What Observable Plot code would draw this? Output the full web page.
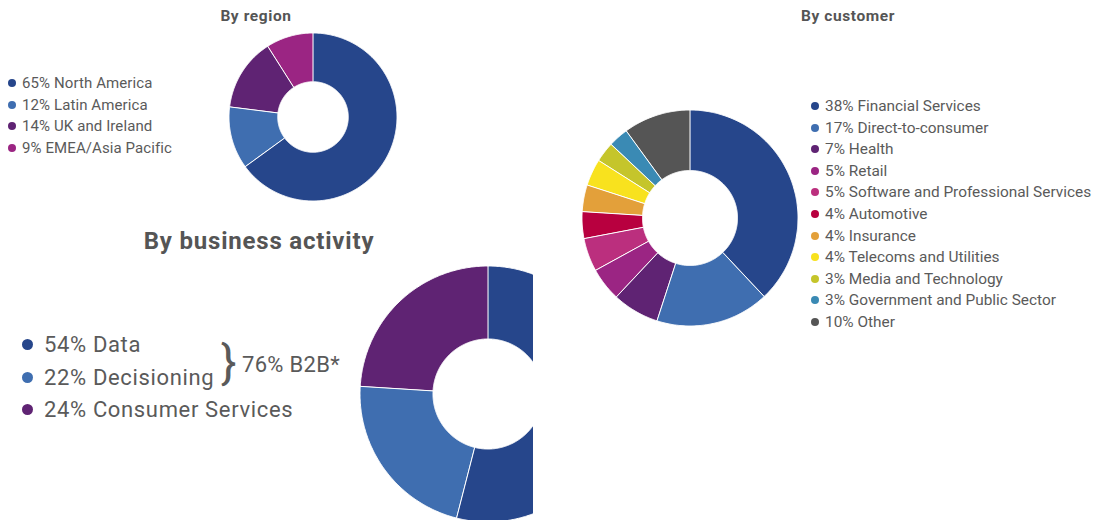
<!DOCTYPE html>
<html><head><meta charset="utf-8">
<script src="https://cdn.jsdelivr.net/npm/d3@7"></script>
<script src="https://cdn.jsdelivr.net/npm/@observablehq/plot@0.6"></script>
<style>
body{margin:0;background:#fff;font-family:Roboto,"Noto Sans",sans-serif;color:#5a5a5a}
#page{position:relative;width:1093px;height:520px;overflow:hidden;background:#fff}
.abs{position:absolute}
.title{position:absolute;font-weight:700;white-space:nowrap;transform:translate(-50%,-50%);color:#555}
.row{position:absolute;display:flex;align-items:center;white-space:nowrap}
.dot{display:inline-block;border-radius:50%;flex:none}
svg{max-width:none !important}
</style></head><body><div id="page"></div>
<script>
// ---- data ----
const regionLabels = ["North America", "Latin America", "UK and Ireland", "EMEA/Asia Pacific"];
const regionValues = [65, 12, 14, 9];
const regionColors = ["#26468b", "#3f6eb0", "#5f2373", "#9b2583"];

const activityLabels = ["Data", "Decisioning", "Consumer Services"];
const activityValues = [54, 22, 24];
const activityColors = ["#26468b", "#3f6eb0", "#5f2373"];

const customerLabels = ["Financial Services", "Direct-to-consumer", "Health", "Retail",
  "Software and Professional Services", "Automotive", "Insurance", "Telecoms and Utilities",
  "Media and Technology", "Government and Public Sector", "Other"];
const customerValues = [38, 17, 7, 5, 5, 4, 4, 4, 3, 3, 10];
const customerColors = ["#26468b", "#3f6eb0", "#5f2373", "#9b2583", "#bb2f7e", "#b8003f",
  "#e3a03a", "#f8e21e", "#c5c52b", "#3a8ab4", "#555555"];

const b2bLabel = "76% B2B*";

// ---- drawing ----
const page = document.getElementById("page");

function donut(labels, values, colors, size, innerRatio) {
  const arcs = d3.pie().sort(null).value(d => d)(values);
  const pts = [];
  arcs.forEach((a, i) => {
    const n = Math.max(2, Math.ceil((a.endAngle - a.startAngle) / 0.01));
    for (let k = 0; k <= n; k++) {
      pts.push({label: labels[i], t: a.startAngle + (a.endAngle - a.startAngle) * k / n});
    }
  });
  const svg = Plot.plot({
    width: size, height: size, margin: 0,
    x: {domain: [-1, 1], axis: null},
    y: {domain: [-1, 1], axis: null},
    color: {domain: labels, range: colors},
    style: {background: "transparent", overflow: "visible"},
    marks: [
      Plot.area(pts, {
        x1: d => Math.sin(d.t), y1: d => Math.cos(d.t),
        x2: d => innerRatio * Math.sin(d.t), y2: d => innerRatio * Math.cos(d.t),
        fill: "label", z: "label", stroke: "white", strokeWidth: 1, curve: "linear"
      })
    ]
  });
  svg.style.maxWidth = "none";
  return svg;
}

function place(el, left, top, w, h) {
  const wrap = document.createElement("div");
  wrap.className = "abs";
  wrap.style.left = left + "px"; wrap.style.top = top + "px";
  if (w) { wrap.style.width = w + "px"; wrap.style.height = h + "px"; wrap.style.overflow = "hidden"; }
  wrap.appendChild(el);
  page.appendChild(wrap);
  return wrap;
}

function title(text, cx, cy, size, ls) {
  const d = document.createElement("div");
  d.className = "title";
  d.textContent = text;
  d.style.left = cx + "px"; d.style.top = cy + "px"; d.style.fontSize = size + "px";
  d.style.letterSpacing = ls + "px";
  page.appendChild(d);
}

function legend(labels, values, colors, dotX, textX, y0, step, fontSize, dot, ls) {
  labels.forEach((l, i) => {
    const r = document.createElement("div");
    r.className = "row";
    const lh = Math.round(fontSize + 6);
    r.style.left = (dotX - dot / 2) + "px";
    r.style.top = (y0 + i * step - lh / 2) + "px";
    r.style.height = lh + "px";
    r.style.fontSize = fontSize + "px";
    r.style.letterSpacing = ls + "px";
    const s = document.createElement("span");
    s.className = "dot";
    s.style.width = dot + "px"; s.style.height = dot + "px";
    s.style.background = colors[i];
    s.style.marginRight = (textX - dotX - dot / 2) + "px";
    r.appendChild(s);
    const t = document.createElement("span");
    t.textContent = values[i] + "% " + l;
    r.appendChild(t);
    page.appendChild(r);
  });
}

// By region
title("By region", 256, 16, 15.5, 0.6);
place(donut(regionLabels, regionValues, regionColors, 168, 0.42), 313 - 84, 117 - 84);
legend(regionLabels, regionValues, regionColors, 12, 22, 83, 21.6, 15, 8, 0.1);

// By customer
title("By customer", 848, 16, 15.5, 0.6);
place(donut(customerLabels, customerValues, customerColors, 216, 0.44), 690 - 108, 218 - 108);
legend(customerLabels, customerValues, customerColors, 815, 825, 106, 21.6, 15.4, 8, 0);

// By business activity
title("By business activity", 259, 241, 24, 0.8);
place(donut(activityLabels, activityValues, activityColors, 256, 0.43), 360, 266, 173, 254);
legend(activityLabels, activityValues, activityColors, 27, 44, 344.5, 32.5, 22, 11, 0.65);

const brace = document.createElement("div");
brace.className = "abs";
brace.textContent = "}";
brace.style.left = "221px"; brace.style.top = "339px";
brace.style.fontSize = "46px"; brace.style.fontWeight = "400"; brace.style.lineHeight = "1";
page.appendChild(brace);
const b2b = document.createElement("div");
b2b.className = "abs";
b2b.textContent = b2bLabel;
b2b.style.left = "242px"; b2b.style.top = "352px";
b2b.style.fontSize = "22px"; b2b.style.letterSpacing = "0.3px";
b2b.style.lineHeight = "26px"; b2b.style.whiteSpace = "nowrap";
page.appendChild(b2b);
</script></body></html>
